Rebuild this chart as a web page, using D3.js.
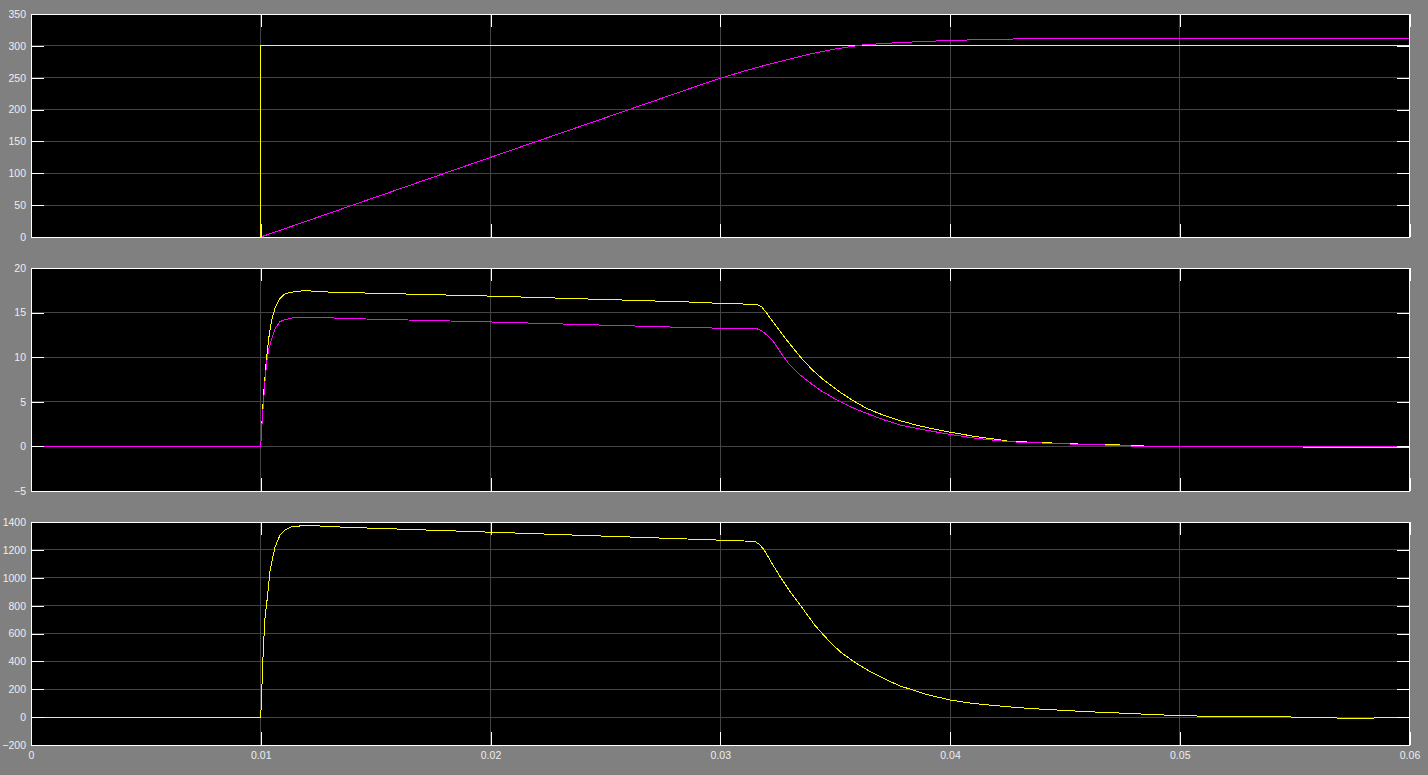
<!DOCTYPE html>
<html>
<head>
<meta charset="utf-8">
<script src="https://cdn.jsdelivr.net/npm/d3@7"></script>
<style>
  html, body { margin: 0; padding: 0; background: #808080; }
  svg { display: block; }
  .tick text { font-family: "Liberation Sans", Arial, sans-serif; font-size: 10.5px; fill: #eeeeee; }
</style>
</head>
<body>
<svg id="chart" width="1428" height="775"></svg>
<script>
// ---------------- DATA ----------------
const xTicks = [0, 0.01, 0.02, 0.03, 0.04, 0.05, 0.06];
const xTickLabels = ["0", "0.01", "0.02", "0.03", "0.04", "0.05", "0.06"];

// Panel 1: speed reference (yellow) and speed (magenta)
const p1Ticks = [0, 50, 100, 150, 200, 250, 300, 350];
const refSpeedT = [0, 0.01, 0.01, 0.06];
const refSpeedV = [0, 0, 300, 300];
const speedT = [0, 0.01, 0.02, 0.029, 0.03, 0.031, 0.032, 0.033, 0.034, 0.035, 0.0357, 0.0362, 0.037, 0.038, 0.039, 0.040, 0.042, 0.044, 0.047, 0.06];
const speedV = [0, 0, 125, 237, 249, 260, 270, 279, 288, 295, 299, 301.5, 303.5, 305.5, 307, 308.5, 310.3, 311.5, 312, 312];

// Panel 2: two currents (yellow, magenta)
const p2Ticks = [-5, 0, 5, 10, 15, 20];
const curAT = [0, 0.01, 0.010045, 0.010088, 0.010145, 0.010218, 0.01029, 0.010377, 0.01048, 0.010624, 0.01084, 0.01105, 0.01127, 0.0116, 0.012, 0.013, 0.0145, 0.02, 0.0291, 0.0298, 0.0316, 0.03181, 0.03203, 0.03246, 0.0329, 0.03348, 0.0340, 0.0345, 0.0352, 0.0358, 0.03638, 0.0370, 0.03784, 0.0386, 0.0393, 0.040, 0.041, 0.0422, 0.0426, 0.0438, 0.0448, 0.0461, 0.0483, 0.0485, 0.0553, 0.0554, 0.06];
const curAV = [0, 0, 2.4, 4.4, 6.5, 8.9, 10.8, 12.7, 14.2, 15.5, 16.6, 17.1, 17.25, 17.4, 17.45, 17.3, 17.2, 16.85, 16.15, 16.05, 15.92, 15.65, 14.9, 13.4, 11.9, 10.05, 8.6, 7.45, 6.1, 5.1, 4.26, 3.6, 2.87, 2.35, 1.95, 1.6, 1.15, 0.72, 0.56, 0.45, 0.34, 0.22, 0.11, 0, 0, -0.1, -0.1];
const curBT = [0, 0.01, 0.010045, 0.010115, 0.010189, 0.01026, 0.01036, 0.01048, 0.010624, 0.01084, 0.01105, 0.01135, 0.0117, 0.0125, 0.0143, 0.02, 0.029, 0.0313, 0.0316, 0.03181, 0.03203, 0.0323, 0.03261, 0.0330, 0.03348, 0.0340, 0.03435, 0.03522, 0.0358, 0.03638, 0.0371, 0.03784, 0.039, 0.040, 0.041, 0.0422, 0.0428, 0.044, 0.0452, 0.0468, 0.0483, 0.06];
const curBV = [0, 0, 2.2, 4.8, 7.4, 9.5, 11.0, 12.1, 13.2, 14.0, 14.2, 14.4, 14.45, 14.45, 14.3, 13.95, 13.3, 13.2, 13.18, 12.96, 12.48, 11.8, 10.6, 9.2, 8.0, 6.95, 6.3, 5.0, 4.3, 3.7, 3.0, 2.39, 1.8, 1.35, 0.95, 0.62, 0.5, 0.38, 0.27, 0.15, 0, 0];

// Panel 3: torque (yellow)
const p3Ticks = [-200, 0, 200, 400, 600, 800, 1000, 1200, 1400];
const torqueT = [0, 0.01, 0.010045, 0.010115, 0.010189, 0.01026, 0.010407, 0.010624, 0.01084, 0.01106, 0.01135, 0.0118, 0.0125, 0.0137, 0.02, 0.0291, 0.0315, 0.03174, 0.03196, 0.03225, 0.03261, 0.03304, 0.03348, 0.03411, 0.0347, 0.03522, 0.0359, 0.03653, 0.0372, 0.03784, 0.039, 0.040, 0.041, 0.042, 0.043, 0.044, 0.045, 0.046, 0.047, 0.048, 0.049, 0.050, 0.051, 0.052, 0.054, 0.0555, 0.0572, 0.0584, 0.0586, 0.06];
const torqueV = [0, 0, 194, 505, 720, 816, 1055, 1222, 1306, 1342, 1366, 1373, 1372, 1362, 1327, 1275, 1261, 1235, 1187, 1103, 1007, 900, 804, 661, 552, 469, 388, 326, 270, 223, 162, 123, 98, 82, 68, 57, 48, 39, 32, 25, 17, 11, 7, 5, 2, 0, -8, -8, 0, 0];

// ---------------- LAYOUT ----------------
const svg = d3.select("#chart");
const left = 31, right = 1409.5;
const panels = [
  { top: 14, bottom: 237, domain: [0, 350], ticks: p1Ticks,
    series: [{ t: refSpeedT, v: refSpeedV, color: "#ffff00" }, { t: speedT, v: speedV, color: "#ff00ff" }] },
  { top: 268, bottom: 491, domain: [-5, 20], ticks: p2Ticks,
    series: [{ t: curAT, v: curAV, color: "#ffff00" }, { t: curBT, v: curBV, color: "#ff00ff" }] },
  { top: 522, bottom: 745, domain: [-200, 1400], ticks: p3Ticks, xLabels: true,
    series: [{ t: torqueT, v: torqueV, color: "#ffff00" }] }
];

const x = d3.scaleLinear().domain([0, 0.06]).range([left, right]);
const tickLen = 13;

panels.forEach((p, i) => {
  const y = d3.scaleLinear().domain(p.domain).range([p.bottom, p.top]);
  const g = svg.append("g");
  const clipId = "clip" + i;
  svg.append("clipPath").attr("id", clipId)
    .append("rect").attr("x", left).attr("y", p.top).attr("width", right - left).attr("height", p.bottom - p.top);

  // background
  g.append("rect").attr("x", left).attr("y", p.top).attr("width", right - left).attr("height", p.bottom - p.top)
    .attr("fill", "#000000");

  // grid lines
  g.append("g").selectAll("line").data(p.ticks).join("line")
    .attr("x1", left).attr("x2", right)
    .attr("y1", d => y(d)).attr("y2", d => y(d))
    .attr("stroke", "#444444").attr("stroke-width", 1).attr("shape-rendering", "crispEdges");
  g.append("g").selectAll("line").data(xTicks).join("line")
    .attr("x1", d => x(d)).attr("x2", d => x(d))
    .attr("y1", p.top).attr("y2", p.bottom)
    .attr("stroke", "#444444").attr("stroke-width", 1).attr("shape-rendering", "crispEdges");

  // data lines
  const line = d3.line().x(d => x(d[0])).y(d => y(d[1]));
  p.series.forEach(s => {
    const pts = s.t.map((t, k) => [t, s.v[k]]);
    g.append("path").datum(pts).attr("d", line)
      .attr("fill", "none").attr("stroke", s.color).attr("stroke-width", 1)
      .attr("shape-rendering", "crispEdges")
      .attr("clip-path", `url(#${clipId})`);
  });

  // axes with inner ticks
  const yl = d3.axisLeft(y).tickValues(p.ticks).tickSize(-tickLen).tickPadding(5).tickFormat(d3.format("d"));
  const yr = d3.axisRight(y).tickValues(p.ticks).tickSize(-tickLen).tickFormat("");
  const xt = d3.axisTop(x).tickValues(xTicks).tickSize(-tickLen).tickFormat("");
  const xb = d3.axisBottom(x).tickValues(xTicks).tickSize(-tickLen).tickPadding(7)
    .tickFormat((d, k) => p.xLabels ? xTickLabels[k] : "");

  const styleAxis = sel => {
    sel.select(".domain").remove();
    sel.selectAll(".tick line").attr("stroke", "#ffffff").attr("shape-rendering", "crispEdges");
    sel.selectAll(".tick text").attr("fill", "#eeeeee").style("font-family", "'Liberation Sans', Arial, sans-serif").style("font-size", "10.5px");
  };
  g.append("g").attr("transform", `translate(${left},0)`).call(yl).call(styleAxis);
  g.append("g").attr("transform", `translate(${right},0)`).call(yr).call(styleAxis);
  g.append("g").attr("transform", `translate(0,${p.top})`).call(xt).call(styleAxis);
  g.append("g").attr("transform", `translate(0,${p.bottom})`).call(xb).call(styleAxis);

  // border
  g.append("rect").attr("x", left).attr("y", p.top).attr("width", right - left).attr("height", p.bottom - p.top)
    .attr("fill", "none").attr("stroke", "#ffffff").attr("stroke-width", 1).attr("shape-rendering", "crispEdges");
});
</script>
</body>
</html>
